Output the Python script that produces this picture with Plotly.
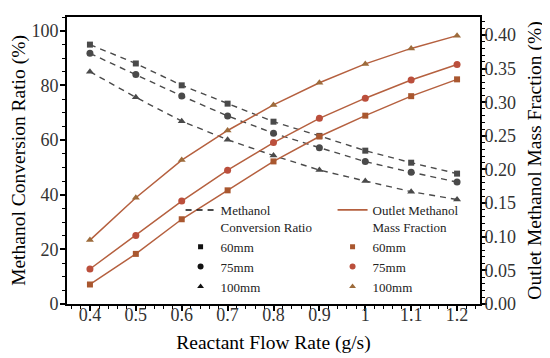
import plotly.graph_objects as go

flow = [0.4, 0.5, 0.6, 0.7, 0.8, 0.9, 1.0, 1.1, 1.2]

conv_60 = [94.9, 88.0, 80.0, 73.3, 66.7, 61.5, 56.1, 51.7, 47.7]
conv_75 = [91.7, 84.0, 76.1, 68.8, 62.5, 57.2, 52.1, 48.2, 44.6]
conv_100 = [85.0, 75.6, 66.9, 60.1, 54.3, 49.0, 45.0, 41.1, 38.2]

frac_60 = [0.029, 0.0745, 0.126, 0.169, 0.212, 0.249, 0.280, 0.309, 0.334]
frac_75 = [0.052, 0.102, 0.153, 0.199, 0.240, 0.276, 0.306, 0.333, 0.356]
frac_100 = [0.095, 0.158, 0.214, 0.258, 0.296, 0.329, 0.357, 0.380, 0.399]

sizes = ["60mm", "75mm", "100mm"]
symbols = ["square", "circle", "triangle-up"]
msizes = [6, 7, 7]

DARK = "#4a4a4a"
RED = "#b5603f"
red_markers = ["#a9572f", "#bb4f3c", "#9d6b3b"]

FONT = "Liberation Serif"

fig = go.Figure()

for vals, sym, ms in zip([conv_60, conv_75, conv_100], symbols, msizes):
    fig.add_trace(go.Scatter(
        x=flow, y=vals, mode="lines+markers", yaxis="y",
        line=dict(color=DARK, width=1.4, dash="6px,5px"),
        marker=dict(symbol=sym, size=ms, color=DARK),
        showlegend=False))

for vals, sym, ms, mc in zip([frac_60, frac_75, frac_100], symbols, msizes, red_markers):
    fig.add_trace(go.Scatter(
        x=flow, y=vals, mode="lines+markers", yaxis="y2",
        line=dict(color=RED, width=1.5),
        marker=dict(symbol=sym, size=ms, color=mc),
        showlegend=False))

# legend entries (legend-only traces)
fig.add_trace(go.Scatter(x=[None], y=[None], mode="lines", name="Methanol<br>Conversion Ratio",
                         line=dict(color="#111", width=1.5, dash="6px,5px"), legend="legend"))
for name, sym, ms in zip(sizes, symbols, msizes):
    fig.add_trace(go.Scatter(x=[None], y=[None], mode="markers", name=name,
                             marker=dict(symbol=sym, size=ms - 1, color="#111"), legend="legend"))

fig.add_trace(go.Scatter(x=[None], y=[None], mode="lines", name="Outlet Methanol<br>Mass Fraction",
                         line=dict(color=RED, width=1.8), legend="legend2", yaxis="y2"))
for name, sym, ms, mc in zip(sizes, symbols, msizes, red_markers):
    fig.add_trace(go.Scatter(x=[None], y=[None], mode="markers", name=name,
                             marker=dict(symbol=sym, size=ms - 1, color=mc), legend="legend2", yaxis="y2"))

axis_common = dict(showline=True, linecolor="black", linewidth=2, ticks="outside",
                   ticklen=5, tickwidth=1.5, tickcolor="black", showgrid=False, zeroline=False,
                   tickfont=dict(family=FONT, size=18, color="#333"),
                   minor=dict(ticks="outside", ticklen=3, tickwidth=1.2, tickcolor="black"))

TITLE_FONT = dict(family=FONT, size=19.5, color="black")

legend_common = dict(bgcolor="rgba(0,0,0,0)", borderwidth=0, valign="top",
                     font=dict(family=FONT, size=13, color="#222"),
                     itemwidth=30, tracegroupgap=0, yanchor="top", xanchor="left")

fig.update_layout(
    width=550, height=358,
    margin=dict(l=59, r=78, t=7, b=62),
    paper_bgcolor="white", plot_bgcolor="white",
    font=dict(family=FONT, color="black"),
    xaxis=dict(range=[0.35, 1.25], dtick=0.1, tick0=0.4, mirror=True, ticklabelstandoff=-12,
               title=dict(text="Reactant Flow Rate (g/s)", font=TITLE_FONT, standoff=12),
               **axis_common),
    yaxis=dict(range=[0, 105], dtick=20, ticklabelstandoff=-2,
               title=dict(text="Methanol Conversion Ratio (%)", font=TITLE_FONT, standoff=2),
               **axis_common),
    yaxis2=dict(range=[0, 0.4267], dtick=0.05, tickformat=".2f", overlaying="y", side="right",
                ticklabelstandoff=-6,
                title=dict(text="Outlet Methanol Mass Fraction (%)", font=TITLE_FONT, standoff=12),
                **axis_common),
    legend=dict(x=0.275, y=0.38, **legend_common),
    legend2=dict(x=0.643, y=0.38, **legend_common),
)

fig.write_html("out.html")
